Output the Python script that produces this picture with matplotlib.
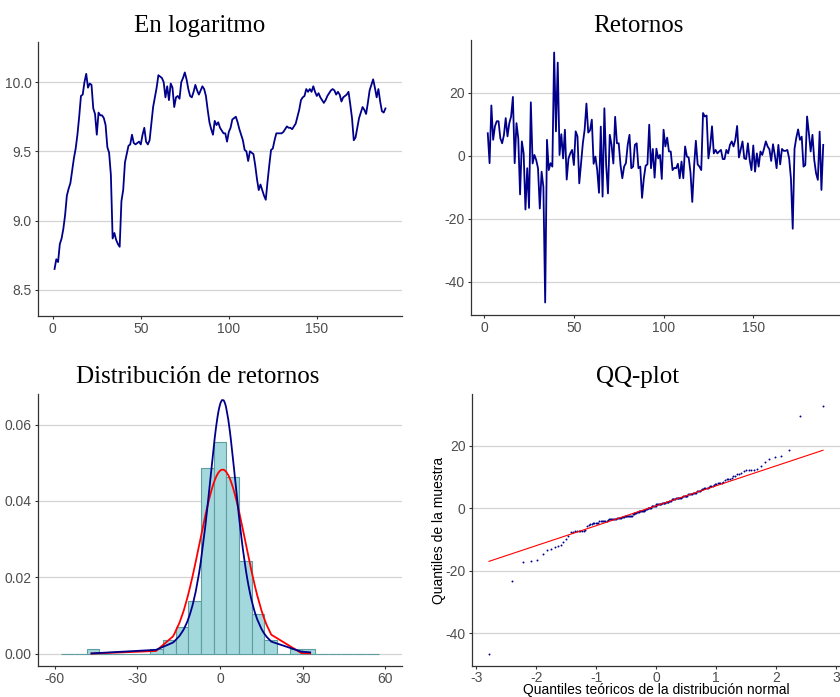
import numpy as np
import matplotlib
matplotlib.use("Agg")
import matplotlib.pyplot as plt
from math import lgamma, pi
from statistics import NormalDist

plt.rcParams['font.family'] = ['Liberation Sans', 'DejaVu Sans']
plt.rcParams['axes.unicode_minus'] = False

# serie en logaritmo (t = 1..189)
log_vals = [8.65, 8.72, 8.70, 8.83, 8.87, 8.94, 9.04, 9.18, 9.23, 9.27,
            9.36, 9.45, 9.52, 9.62, 9.75, 9.90, 9.91, 10.00, 10.06, 9.96,
            9.99, 9.98, 9.81, 9.77, 9.62, 9.78, 9.76, 9.76, 9.74, 9.69,
            9.53, 9.49, 9.33, 8.87, 8.91, 8.86, 8.83, 8.81, 9.14, 9.22,
            9.42, 9.48, 9.54, 9.55, 9.62, 9.56, 9.55, 9.56, 9.57, 9.55,
            9.62, 9.67, 9.57, 9.55, 9.58, 9.70, 9.82, 9.89, 9.96, 10.05,
            10.04, 10.03, 10.00, 9.89, 9.97, 9.87, 9.99, 9.96, 9.82, 9.89,
            9.90, 9.88, 10.00, 10.03, 10.07, 10.02, 9.95, 9.90, 9.89, 9.93,
            9.98, 9.94, 9.91, 9.94, 9.97, 9.95, 9.90, 9.80, 9.71, 9.66,
            9.62, 9.72, 9.69, 9.71, 9.67, 9.65, 9.63, 9.63, 9.57, 9.64,
            9.67, 9.73, 9.74, 9.75, 9.71, 9.66, 9.62, 9.58, 9.51, 9.50,
            9.43, 9.50, 9.49, 9.48, 9.40, 9.30, 9.22, 9.26, 9.22, 9.18,
            9.15, 9.28, 9.40, 9.51, 9.52, 9.58, 9.63, 9.63, 9.63, 9.63,
            9.64, 9.66, 9.68, 9.67, 9.67, 9.66, 9.68, 9.70, 9.75, 9.80,
            9.87, 9.89, 9.90, 9.95, 9.93, 9.95, 9.93, 9.97, 9.93, 9.90,
            9.92, 9.89, 9.87, 9.85, 9.87, 9.90, 9.92, 9.94, 9.95, 9.94,
            9.91, 9.93, 9.91, 9.86, 9.89, 9.90, 9.91, 9.93, 9.84, 9.74,
            9.58, 9.60, 9.67, 9.74, 9.78, 9.82, 9.80, 9.77, 9.85, 9.94,
            9.98, 10.02, 9.96, 9.89, 9.95, 9.86, 9.79, 9.78, 9.81]

# retornos (t = 2..189)
ret_vals = [7.1, -2.4, 15.9, 5.0, 9.3, 10.9, 10.9, 5.5, 3.9, 6.5,
            11.9, 6.1, 10.3, 12.4, 18.6, -2.4, 10.3, 5.5, -12.3, 4.5,
            0.7, -17.1, -4.0, -16.6, 16.9, -2.5, 0.2, -1.4, -4.0, -16.8,
            -5.1, -9.9, -46.6, 5.0, -4.6, -2.4, -3.5, 32.7, 7.7, 29.5,
            0.2, 6.8, -0.9, 8.2, -7.6, -0.9, 0.7, 1.8, -3.0, 7.7,
            6.1, -8.8, -2.4, 3.9, 8.2, 16.5, 7.3, 8.0, 11.4, -2.6,
            -0.3, -4.6, -11.8, 9.2, -13.0, 15.0, -3.0, -12.0, 6.6, 3.4,
            -2.5, 12.3, 3.9, 3.9, -3.0, -7.2, -3.5, -2.4, 3.4, 6.6,
            -4.0, -3.5, 3.4, 3.9, -4.0, -3.5, -13.4, -7.2, -3.2, -2.8,
            9.8, -4.0, 2.1, -7.0, 2.2, -0.9, 0.2, -7.4, 8.2, 2.9,
            5.7, 1.3, 1.3, -4.6, -3.9, -4.0, -2.6, -7.2, -1.9, -7.2,
            2.9, -0.3, -0.6, -5.3, -14.7, -3.5, 4.7, -2.8, -3.5, -4.6,
            13.5, 12.4, 12.7, -0.9, 3.0, 9.3, 0.7, 1.8, 0.7, 1.3,
            1.8, -1.1, -1.1, 1.8, 0.7, 3.4, 4.5, 2.9, 5.0, 9.4,
            -0.6, 1.9, 4.5, -0.9, -1.1, 3.9, -1.4, -4.6, 3.2, -5.1,
            0.7, -3.5, 1.3, 0.2, 2.2, 4.5, 2.9, 2.0, -1.7, 3.6,
            0.2, -4.0, 3.4, -2.8, 2.1, 1.5, 1.5, 1.8, -0.9, -7.3,
            -23.2, 2.2, 5.7, 8.3, 5.0, 6.0, -3.5, -3.0, 12.4, 7.1,
            1.3, 6.6, -1.4, -5.6, -7.7, 7.6, -10.9, 3.4]

t_log = np.arange(1, len(log_vals) + 1)
t_ret = np.arange(2, len(ret_vals) + 2)
r = np.array(ret_vals)
n = len(r)

line_col = '#00008B'
serif = ['Liberation Serif', 'DejaVu Serif']


def t_logpdf(x, nu, mu, s2):
    d2 = (x - mu) ** 2 / s2
    return (lgamma((nu + 1) / 2) - lgamma(nu / 2) - 0.5 * np.log(nu * pi * s2)
            - (nu + 1) / 2 * np.log1p(d2 / nu))


def t_fit(x):
    # ajuste t de Student por maxima verosimilitud (EM para cada nu)
    best = None
    for nu in np.arange(1.5, 15.01, 0.1):
        mu, s2 = np.median(x), np.var(x)
        for _ in range(200):
            w = (nu + 1) / (nu + (x - mu) ** 2 / s2)
            mu = (w * x).sum() / w.sum()
            s2 = (w * (x - mu) ** 2).sum() / len(x)
        ll = t_logpdf(x, nu, mu, s2).sum()
        if best is None or ll > best[0]:
            best = (ll, nu, mu, s2)
    return best[1:]


def style(ax):
    for s in ['top', 'right']:
        ax.spines[s].set_visible(False)
    for s in ['left', 'bottom']:
        ax.spines[s].set_color('#333333')
        ax.spines[s].set_linewidth(0.9)
    ax.yaxis.grid(True, color='#d4d4d4', linewidth=0.9)
    ax.set_axisbelow(True)
    ax.tick_params(colors='#333333', labelcolor='#4d4d4d', labelsize=10,
                   length=2.5, width=0.8, pad=2)


W, H = 840, 697
fig = plt.figure(figsize=(W / 100, H / 100), dpi=100)


def box(l, r_, t, b):
    return [l / W, 1 - b / H, (r_ - l) / W, (b - t) / H]


# --- En logaritmo
ax1 = fig.add_axes(box(38, 402, 42, 316))
ax1.plot(t_log, log_vals, color=line_col, lw=1.3)
ax1.set_xlim(-8.4, 198.4)
ax1.set_ylim(8.31, 10.29)
ax1.set_xticks([0, 50, 100, 150])
ax1.set_yticks([8.5, 9.0, 9.5, 10.0])
ax1.set_yticklabels(['8.5', '9.0', '9.5', '10.0'])
style(ax1)

# --- Retornos
ax2 = fig.add_axes(box(471, 840, 40, 315))
ax2.plot(t_ret, r, color=line_col, lw=1.3)
ax2.set_xlim(-7.35, 198.35)
ax2.set_ylim(r.min() - 0.05 * np.ptp(r), r.max() + 0.05 * np.ptp(r))
ax2.set_xticks([0, 50, 100, 150])
ax2.set_yticks([-40, -20, 0, 20])
style(ax2)

# --- Distribucion de retornos
ax3 = fig.add_axes(box(38, 402, 394, 666))
edges = np.linspace(-57.5, 57.5, 26)
ax3.hist(r, bins=edges, density=True, color='#a3d8dc', edgecolor='#5f9ea0',
         linewidth=0.8)
xs = np.sort(r)
sd = r.std(ddof=1)
nd = NormalDist(r.mean(), sd)
nu, mu, s2 = t_fit(r)
ax3.plot(xs, [nd.pdf(v) for v in xs], color='red', lw=1.3)
ax3.plot(xs, np.exp(t_logpdf(xs, nu, mu, s2)), color=line_col, lw=1.3)
ax3.set_xlim(-66, 66)
ax3.set_ylim(-0.00325, 0.068)
ax3.set_xticks([-60, -30, 0, 30, 60])
ax3.set_yticks([0, 0.02, 0.04, 0.06])
ax3.set_yticklabels(['0.00', '0.02', '0.04', '0.06'])
style(ax3)

# --- QQ-plot
ax4 = fig.add_axes(box(472, 840, 394, 666))
theo = np.array([NormalDist().inv_cdf((i - 0.5) / n) for i in range(1, n + 1)])
ax4.plot(theo, xs, 'o', color=line_col, markersize=1.4, markeredgewidth=0)
q75, q25 = np.percentile(r, [75, 25])
slope = (q75 - q25) / (NormalDist().inv_cdf(0.75) - NormalDist().inv_cdf(0.25))
icpt = q25 - slope * NormalDist().inv_cdf(0.25)
ax4.plot([theo[0], theo[-1]], [icpt + slope * theo[0], icpt + slope * theo[-1]],
         color='red', lw=0.8)
ax4.set_xlim(-3.07, 3.07)
ax4.set_ylim(r.min() - 0.05 * np.ptp(r), r.max() + 0.05 * np.ptp(r))
ax4.set_xticks([-3, -2, -1, 0, 1, 2, 3])
ax4.set_yticks([-40, -20, 0, 20])
ax4.tick_params(axis='x', pad=1)
ax4.set_xlabel('Quantiles teóricos de la distribución normal', fontsize=10, labelpad=-1)
ax4.set_ylabel('Quantiles de la muestra', fontsize=10, labelpad=0)
style(ax4)
ax4.tick_params(axis='x', pad=1)

# titulos
fig.text(200 / W, 1 - 32 / H, 'En logaritmo', family=serif, fontsize=18, ha='center', va='baseline')
fig.text(638 / W, 1 - 32 / H, 'Retornos', family=serif, fontsize=18, ha='center', va='baseline')
fig.text(198 / W, 1 - 383 / H, 'Distribución de retornos', family=serif, fontsize=18, ha='center', va='baseline')
fig.text(638 / W, 1 - 383 / H, 'QQ-plot', family=serif, fontsize=18, ha='center', va='baseline')

fig.savefig('out.png', dpi=100)
